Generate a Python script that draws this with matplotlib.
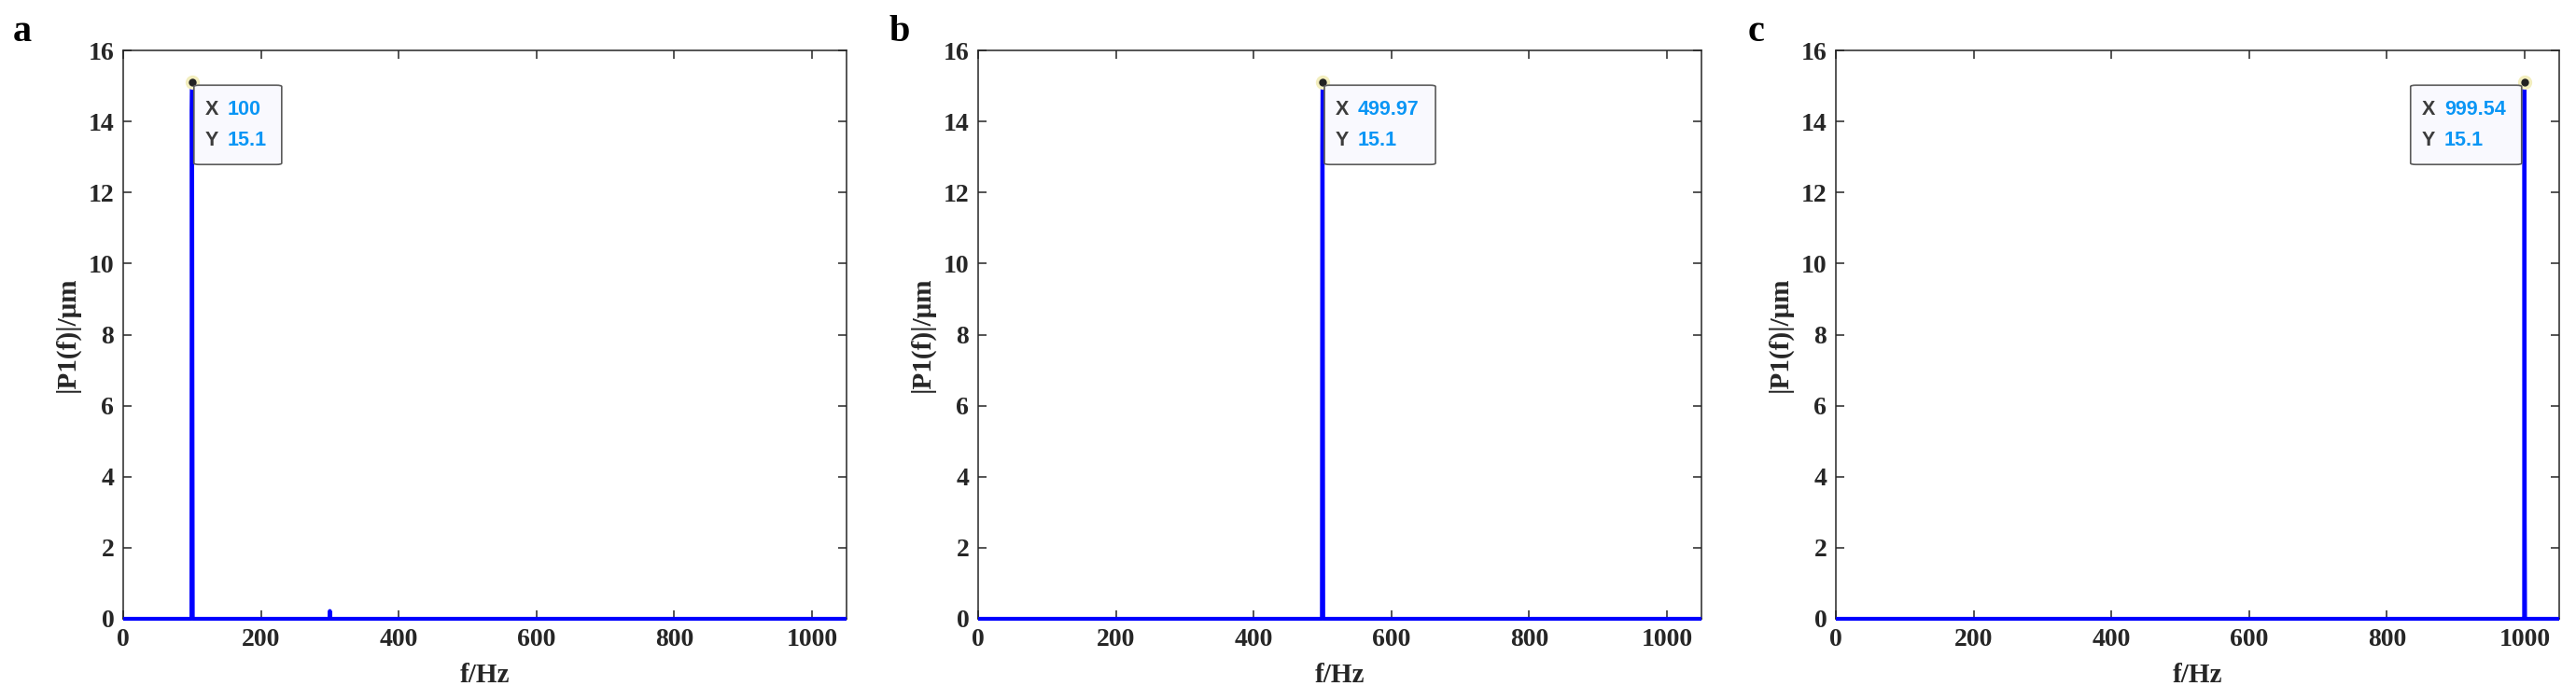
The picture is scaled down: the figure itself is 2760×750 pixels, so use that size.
import matplotlib.pyplot as plt
import numpy as np

# spectrum values (frequency in Hz, amplitude in um)
freq_a = [0, 99.0, 99.54, 100.0, 100.46, 101.0, 299.5, 300.0, 300.5, 1050]
amp_a = [0, 0, 14.3, 15.1, 7.1, 0, 0, 0.22, 0, 0]

freq_b = [0, 499.0, 499.51, 499.97, 500.43, 501.0, 1050]
amp_b = [0, 0, 13.3, 15.1, 8.1, 0, 0]

freq_c = [0, 998.6, 999.08, 999.54, 1000.0, 1000.5, 1050]
amp_c = [0, 0, 0, 15.1, 2.7, 0, 0]

tips = [(100, 15.1, "100"), (499.97, 15.1, "499.97"), (999.54, 15.1, "999.54")]
panel_letters = ["a", "b", "c"]
x_ticks = [0, 200, 400, 600, 800, 1000]
y_ticks = [0, 2, 4, 6, 8, 10, 12, 14, 16]

DARK = "#262626"
serif = ["Liberation Serif", "DejaVu Serif"]


def data_tip(fig, ax, x, y, xtext, side, width):
    # MATLAB style datatip, placed in pixels next to the point
    px, py = ax.transData.transform((x, y))
    inv = fig.transFigure.inverted()

    def fpos(dx, dy):
        return inv.transform((px + dx, py + dy))

    ax.plot([x], [y], "o", ms=11, color="#f3eebe", mec="none", clip_on=False, zorder=5)
    ax.plot([x], [y], "o", ms=6, color="#222222", mec="none", clip_on=False, zorder=6)

    left = 2 if side > 0 else -3 - width
    x0, y0 = fpos(left, -88)
    x1, y1 = fpos(left + width, -3)
    box = plt.matplotlib.patches.FancyBboxPatch(
        (x0, y0), x1 - x0, y1 - y0, boxstyle="round,pad=0,rounding_size=0.002",
        transform=fig.transFigure, fc="#f9f9fe", ec="#5a5a5a", lw=1.2, zorder=7)
    fig.patches.append(box)

    for label, val, dy in [("X", xtext, -29), ("Y", str(y), -62)]:
        tx, ty = fpos(left + 12, dy)
        fig.text(tx, ty, label, color="#3c3c3c", fontsize=15.5, fontweight="bold",
                 family="Liberation Sans", va="center", ha="left", zorder=8)
        vx, vy = fpos(left + 36, dy)
        fig.text(vx, vy, val, color="#0a96f5", fontsize=15.5, fontweight="bold",
                 family="Liberation Sans", va="center", ha="left", zorder=8)


def main():
    fig = plt.figure(figsize=(27.6, 7.5), dpi=100)
    lefts = [132 / 2760, 1048 / 2760, 1967 / 2760]
    bottom = 1 - 663 / 750
    height = (663 - 54) / 750
    width = 775 / 2760

    series = [(freq_a, amp_a), (freq_b, amp_b), (freq_c, amp_c)]
    tip_side = [1, 1, -1]
    tip_width = [94, 119, 119]
    letter_x = [14 / 2760, 953 / 2760, 1873 / 2760]

    for i in range(3):
        ax = fig.add_axes([lefts[i], bottom, width, height])
        f, p = series[i]
        ax.plot(f, p, color="#0000ff", lw=3.0, clip_on=False, solid_capstyle="butt", zorder=3)
        ax.set_xlim(0, 1050)
        ax.set_ylim(0, 16)
        ax.set_xticks(x_ticks)
        ax.set_yticks(y_ticks)
        ax.tick_params(direction="in", top=True, right=True, length=6.5, width=1.1,
                       color=DARK, labelcolor=DARK, labelsize=20, pad=7)
        for lab in ax.get_xticklabels() + ax.get_yticklabels():
            lab.set_family(serif)
            lab.set_fontweight("bold")
        for s in ax.spines.values():
            s.set_linewidth(1.1)
            s.set_color(DARK)
        ax.set_xlabel("f/Hz", fontsize=21, family=serif, fontweight="bold", color=DARK, labelpad=9)
        ax.set_ylabel("|P1(f)|/\u03bcm", fontsize=21, family=serif, fontweight="bold", color=DARK, labelpad=6)

        fig.text(letter_x[i], 1 - 35 / 750, panel_letters[i], fontsize=29, family=serif,
                 fontweight="bold", va="center", ha="left")

        tx, ty, txt = tips[i]
        data_tip(fig, ax, tx, ty, txt, tip_side[i], tip_width[i])

    fig.savefig("out.png", dpi=100)


if __name__ == "__main__":
    main()
